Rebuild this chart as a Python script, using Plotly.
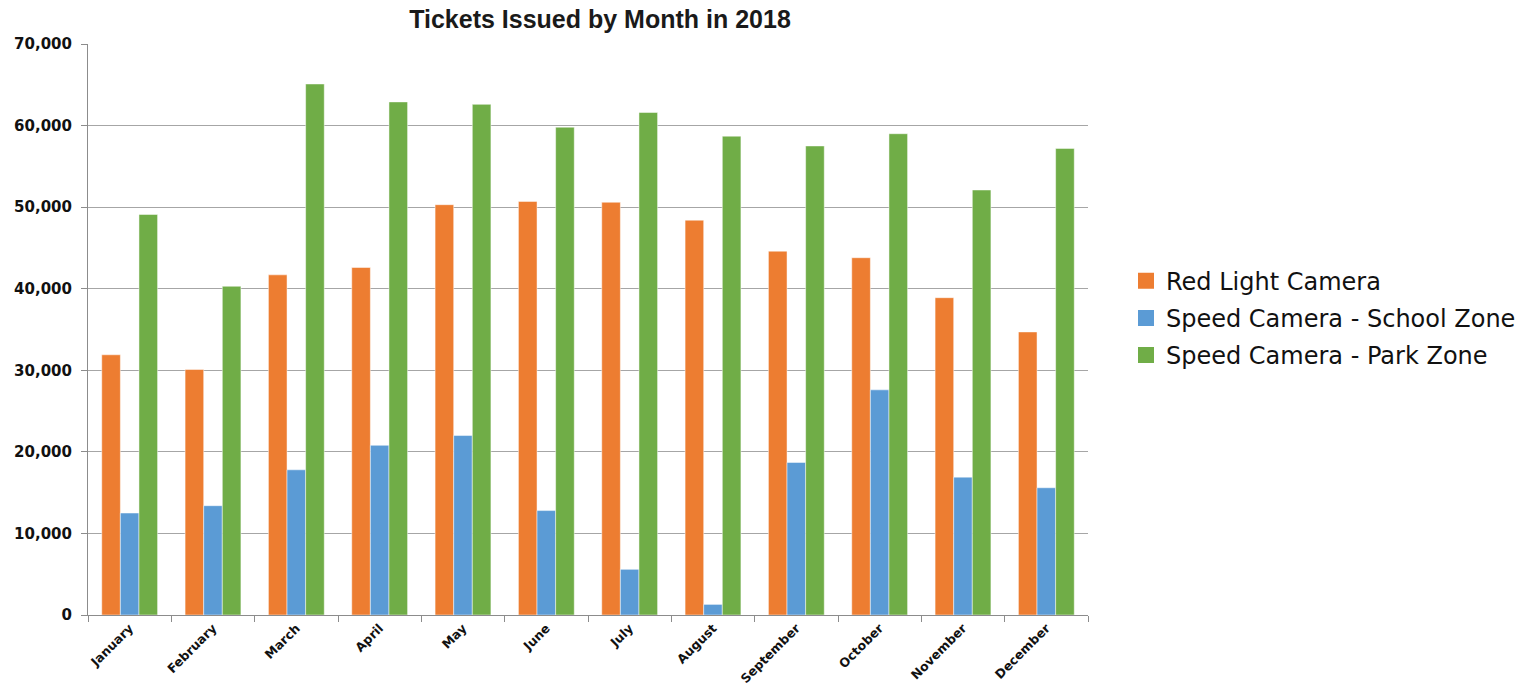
import plotly.graph_objects as go

months = ["January", "February", "March", "April", "May", "June",
          "July", "August", "September", "October", "November", "December"]

red_light = [31900, 30100, 41700, 42600, 50300, 50700,
             50600, 48400, 44600, 43800, 38900, 34700]
school_zone = [12500, 13400, 17800, 20800, 22000, 12800,
               5600, 1300, 18700, 27600, 16900, 15600]
park_zone = [49100, 40300, 65100, 62900, 62600, 59800,
             61600, 58700, 57500, 59000, 52100, 57200]

series = [
    ("Red Light Camera", red_light, "#ED7D31"),
    ("Speed Camera - School Zone", school_zone, "#5B9BD5"),
    ("Speed Camera - Park Zone", park_zone, "#70AD47"),
]

TICK_FONT = "DejaVu Sans, Verdana, sans-serif"

fig = go.Figure()
for name, vals, color in series:
    fig.add_trace(go.Bar(
        x=months, y=vals, name=name, showlegend=False,
        marker=dict(color=color, line=dict(color="rgba(255,255,255,0.6)", width=0.8)),
    ))
# legend entries with larger square swatches
for name, vals, color in series:
    fig.add_trace(go.Scatter(
        x=[None], y=[None], mode="markers", name=name, legendgroup=name,
        marker=dict(symbol="square", size=20, color=color),
        hoverinfo="skip",
    ))

fig.update_layout(
    width=1533, height=686,
    margin=dict(l=88, r=445, t=44, b=71, autoexpand=False),
    paper_bgcolor="white", plot_bgcolor="white",
    barmode="group", bargap=0.33, bargroupgap=0,
    title=dict(
        text="<b>Tickets Issued by Month in 2018</b>",
        x=600 / 1533, xanchor="center", y=1 - 19 / 686, yanchor="middle",
        font=dict(family="Liberation Sans, Arial, sans-serif", size=25, color="#1a1a1a"),
    ),
    legend=dict(
        x=1.038, xanchor="left", y=0.52, yanchor="middle",
        font=dict(family="DejaVu Sans, sans-serif", size=24, color="#111"),
        itemwidth=30, itemsizing="trace", tracegroupgap=3,
        traceorder="grouped", bgcolor="rgba(0,0,0,0)",
    ),
    showlegend=True,
)

fig.update_xaxes(
    type="category", tickangle=-45, tickson="boundaries",
    ticks="outside", ticklen=6, tickcolor="#8c8c8c",
    showline=True, linecolor="#8c8c8c", linewidth=1,
    tickfont=dict(family=TICK_FONT, size=12.5, color="#111"),
    showgrid=False, automargin=False,
    tickvals=months, ticktext=[f"<b>{m}</b>" for m in months],
)
fig.update_yaxes(
    range=[0, 70000],
    ticks="outside", ticklen=6, tickcolor="#8c8c8c",
    showline=True, linecolor="#8c8c8c", linewidth=1,
    showgrid=True, gridcolor="#a6a6a6", gridwidth=1,
    zeroline=False, automargin=False, ticklabelstandoff=6,
    tickfont=dict(family=TICK_FONT, size=15, color="#111"),
    tickvals=list(range(0, 70001, 10000)),
    ticktext=[f"<b>{v:,}</b>" for v in range(0, 70001, 10000)],
)

fig.write_html("out.html")
